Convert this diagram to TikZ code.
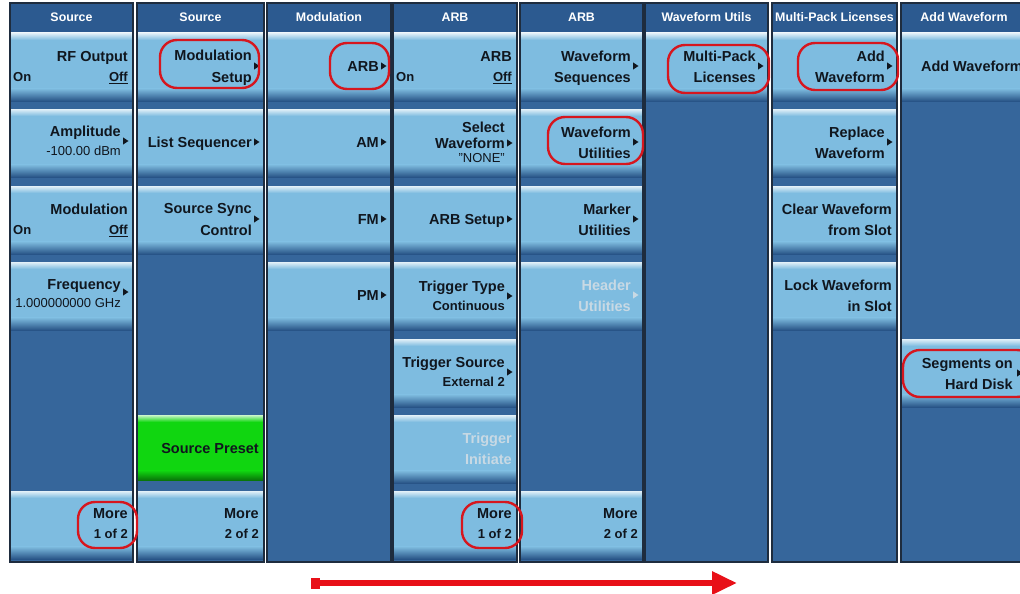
\documentclass[tikz,border=0pt]{standalone}
\usepackage{fontspec}
\setmainfont{Liberation Sans}
\usetikzlibrary{arrows.meta}
\definecolor{panel}{RGB}{54,102,155}
\definecolor{hdr}{RGB}{44,90,144}
\definecolor{btnlt}{RGB}{126,188,224}
\definecolor{btnbot}{RGB}{40,84,135}
\definecolor{grn}{RGB}{16,214,16}
\definecolor{txt}{RGB}{16,22,30}
\definecolor{dimtxt}{RGB}{200,217,228}
\definecolor{ring}{RGB}{214,22,30}
\definecolor{arrowred}{RGB}{232,16,24}
\definecolor{edge}{RGB}{30,44,62}
\tikzset{
  big/.style={font=\fontsize{14.5}{17}\selectfont\bfseries, text=txt, inner sep=0pt},
  small/.style={font=\fontsize{13}{15}\selectfont, text=txt, inner sep=0pt},
  smallb/.style={font=\fontsize{13}{15}\selectfont\bfseries, text=txt, inner sep=0pt},
  hdrtxt/.style={font=\fontsize{12.4}{14}\selectfont\bfseries, text=white, inner sep=0pt},
  dim/.style={text=dimtxt},
  ringbox/.style={draw=ring, line width=2.4pt, rounded corners=17pt},
  coledge/.style={draw=edge, line width=1.2pt},
}
\newcommand\TxtR[5][]{\node[big,anchor=base east,#1] (#2) at (#3,#4+5.2) {#5};}
\newcommand\TxtS[5][]{\node[smallb,anchor=base east,#1] (#2) at (#3,#4+4.6) {#5};}
\newcommand\TxtL[4]{\node[smallb,anchor=base west] (#1) at (#2,#3+4.6) {#4};}
\newcommand\TriR[3][txt]{\fill[#1] (#2-10,#3-3.6) -- (#2-4.5,#3) -- (#2-10,#3+3.6) -- cycle;}
\newcommand\KeyBg[4][btnlt]{%
  \fill[#1] (#2,#4) rectangle (#3,#4+56);
  \shade[top color=#1, bottom color=btnbot] (#2,#4+55.5) rectangle (#3,#4+68);
  \shade[top color=white!78!#1, bottom color=#1] (#2,#4) rectangle (#3,#4+7);}
\newcommand\ColBg[4]{%
  \fill[panel] (#1,3) rectangle (#2,562);
  \fill[hdr] (#1,3) rectangle (#2,32);
  \node[hdrtxt] (#3) at ({(#1+#2)/2},17.5) {#4};}
\begin{document}
\begin{tikzpicture}[x=1pt,y=-1pt]
\useasboundingbox (0,0) rectangle (1020,594);
\clip (0,0) rectangle (1020,594);
\fill[white] (0,0) rectangle (1020,594);

% ---------- column 1 ----------
\ColBg{10}{133}{h1}{Source}
\KeyBg{10}{133}{33}\KeyBg{10}{133}{109}\KeyBg{10}{133}{186}\KeyBg{10}{133}{262}\KeyBg{10}{133}{491}
\TxtR{a1}{128}{33+23}{RF Output}
\TxtL{a1on}{13}{33+44}{On}
\TxtS{a1off}{128}{33+44}{\underline{Off}}
\TxtR{a2}{121}{109+22}{Amplitude}\TriR{133}{109+32}
\node[small,anchor=base east] (a2v) at (121,109+42+4.6) {-100.00 dBm};
\TxtR{a3}{128}{186+23}{Modulation}
\TxtL{a3on}{13}{186+44}{On}
\TxtS{a3off}{128}{186+44}{\underline{Off}}
\TxtR{a4}{121}{262+22}{Frequency}\TriR{133}{262+30}
\node[small,anchor=base east] (a4v) at (121,262+41+4.6) {1.000000000 GHz};
\TxtR{a7}{128}{491+22}{More}
\TxtS{a7v}{128}{491+43}{1 of 2}

% ---------- column 2 ----------
\ColBg{137}{264}{h2}{Source}
\KeyBg{137}{264}{33}\KeyBg{137}{264}{109}\KeyBg{137}{264}{186}\KeyBg{137}{264}{491}
\fill[grn] (137,415) rectangle (264,471);
\shade[top color=grn, bottom color=grn!55!black] (137,470.5) rectangle (264,480);
\shade[top color=white!78!grn, bottom color=grn] (137,415) rectangle (264,422);
\TxtR{b1a}{252}{33+22}{Modulation}\TxtR{b1b}{252}{33+44}{Setup}\TriR{264}{33+33}
\TxtR{b2}{252}{109+33}{List Sequencer}\TriR{264}{109+33}
\TxtR{b3a}{252}{186+22}{Source Sync}\TxtR{b3b}{252}{186+44}{Control}\TriR{264}{186+33}
\TxtR{b6}{259}{415+33}{Source Preset}
\TxtR{b7}{259}{491+22}{More}
\TxtS{b7v}{259}{491+43}{2 of 2}

% ---------- column 3 ----------
\ColBg{267}{391}{h3}{Modulation}
\KeyBg{267}{391}{33}\KeyBg{267}{391}{109}\KeyBg{267}{391}{186}\KeyBg{267}{391}{262}
\TxtR{c1}{379}{33+33}{ARB}\TriR{391}{33+33}
\TxtR{c2}{379}{109+33}{AM}\TriR{391}{109+33}
\TxtR{c3}{379}{186+33}{FM}\TriR{391}{186+33}
\TxtR{c4}{379}{262+33}{PM}\TriR{391}{262+33}

% ---------- column 4 ----------
\ColBg{393}{517}{h4}{ARB}
\KeyBg{393}{517}{33}\KeyBg{393}{517}{109}\KeyBg{393}{517}{186}\KeyBg{393}{517}{262}
\KeyBg{393}{517}{339}\KeyBg{393}{517}{415}\KeyBg{393}{517}{491}
\TxtR{d1}{512}{33+23}{ARB}
\TxtL{d1on}{396}{33+44}{On}
\TxtS{d1off}{512}{33+44}{\underline{Off}}
\TxtR{d2a}{505}{109+18}{Select}\TxtR{d2b}{505}{109+34}{Waveform}\TriR{517}{109+34}
\node[small,anchor=base east] (d2c) at (505,109+49+4.6) {"NONE"};
\TxtR{d3}{505}{186+33}{ARB Setup}\TriR{517}{186+33}
\TxtR{d4a}{505}{262+24}{Trigger Type}\TriR{517}{262+34}
\TxtS{d4b}{505}{262+44}{Continuous}
\TxtR{d5a}{505}{339+23}{Trigger Source}\TriR{517}{339+33}
\TxtS{d5b}{505}{339+43}{External 2}
\TxtR[dim]{d6a}{512}{415+23}{Trigger}\TxtR[dim]{d6b}{512}{415+44}{Initiate}
\TxtR{d7}{512}{491+22}{More}
\TxtS{d7v}{512}{491+43}{1 of 2}

% ---------- column 5 ----------
\ColBg{520}{643}{h5}{ARB}
\KeyBg{520}{643}{33}\KeyBg{520}{643}{109}\KeyBg{520}{643}{186}\KeyBg{520}{643}{262}\KeyBg{520}{643}{491}
\TxtR{e1a}{631}{33+23}{Waveform}\TxtR{e1b}{631}{33+44}{Sequences}\TriR{643}{33+33}
\TxtR{e2a}{631}{109+23}{Waveform}\TxtR{e2b}{631}{109+44}{Utilities}\TriR{643}{109+33}
\TxtR{e3a}{631}{186+23}{Marker}\TxtR{e3b}{631}{186+44}{Utilities}\TriR{643}{186+33}
\TxtR[dim]{e4a}{631}{262+23}{Header}\TxtR[dim]{e4b}{631}{262+44}{Utilities}\TriR[dimtxt]{643}{262+33}
\TxtR{e7}{638}{491+22}{More}
\TxtS{e7v}{638}{491+43}{2 of 2}

% ---------- column 6 ----------
\ColBg{645}{768}{h6}{Waveform Utils}
\KeyBg{645}{768}{33}
\TxtR{f1a}{756}{33+23}{Multi-Pack}\TxtR{f1b}{756}{33+44}{Licenses}\TriR{768}{33+33}

% ---------- column 7 ----------
\ColBg{772}{897}{h7}{Multi-Pack Licenses}
\KeyBg{772}{897}{33}\KeyBg{772}{897}{109}\KeyBg{772}{897}{186}\KeyBg{772}{897}{262}
\TxtR{g1a}{885}{33+23}{Add}\TxtR{g1b}{885}{33+44}{Waveform}\TriR{897}{33+33}
\TxtR{g2a}{885}{109+23}{Replace}\TxtR{g2b}{885}{109+44}{Waveform}\TriR{897}{109+33}
\TxtR{g3a}{892}{186+23}{Clear Waveform}\TxtR{g3b}{892}{186+44}{from Slot}
\TxtR{g4a}{892}{262+23}{Lock Waveform}\TxtR{g4b}{892}{262+44}{in Slot}

% ---------- column 8 ----------
\ColBg{901}{1027}{h8}{Add Waveform}
\KeyBg{901}{1027}{33}\KeyBg{901}{1027}{339}
\TxtR{k1}{1023}{33+33}{Add Waveform}
\TxtR{k5a}{1013}{339+24}{Segments on}\TxtR{k5b}{1013}{339+45}{Hard Disk}\TriR{1027}{339+34}

% ---------- column outlines ----------
\foreach \l/\r in {10/133,137/264,267/391,393/517,520/643,645/768,772/897,901/1027}
  \draw[coledge] (\l,3) rectangle (\r,562);

% ---------- red rings ----------
\draw[ringbox] (78,502) rectangle (137,548);
\draw[ringbox] (160,40) rectangle (259,88);
\draw[ringbox] (330,43) rectangle (389,89);
\draw[ringbox] (462,502) rectangle (522,548);
\draw[ringbox] (548,117) rectangle (643,164);
\draw[ringbox] (668,45) rectangle (769,93);
\draw[ringbox] (798,43) rectangle (898,90);
\draw[ringbox] (903,350) rectangle (1034,397);

% ---------- red arrow ----------
\coordinate (arrS) at (311,583);
\coordinate (arrE) at (737,583);
\draw[arrowred, line width=6pt, {Square[length=9pt,width=11pt]}-{Triangle[length=25pt,width=22pt]}] (arrS) -- (arrE);
\end{tikzpicture}
\end{document}
